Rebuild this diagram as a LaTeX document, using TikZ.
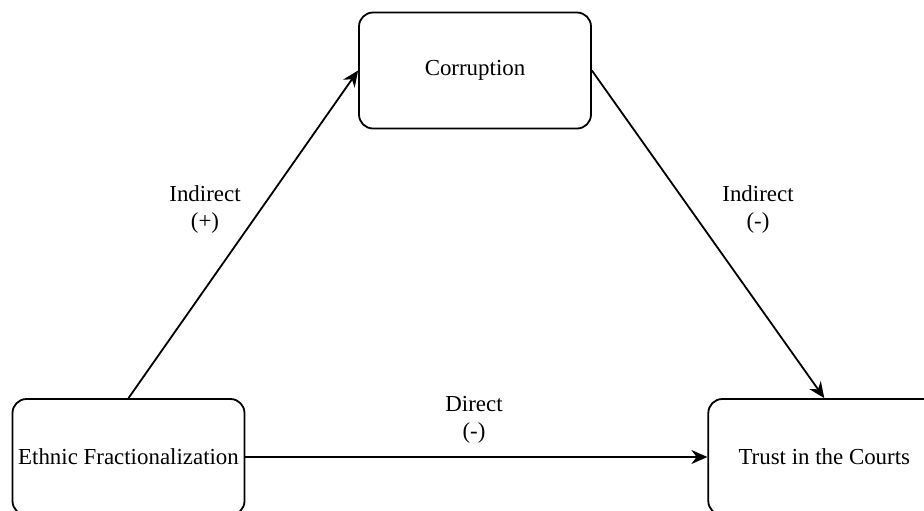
\documentclass[tikz,border=0pt]{standalone}
\usepackage{fontspec}
\setmainfont{Liberation Serif}
\usetikzlibrary{arrows.meta}
\usetikzlibrary{positioning}

\begin{document}
\begin{tikzpicture}[x=0.5pt,y=-0.5pt,line width=0.9pt,
        >={Stealth[length=8pt,width=7pt]},
        box/.style={draw,rounded corners=7pt,minimum width=116pt,minimum height=58pt,inner sep=0pt,font=\fontsize{11.45}{13.5}\selectfont},
        lbl/.style={align=center,inner sep=0pt,font=\fontsize{11.45}{13.5}\selectfont}]
        \useasboundingbox (0,0) rectangle (924,510);
        \clip (0,0) rectangle (924,510);

        \node[box] (Cor) at (475,70.5) {Corruption};
        \node[box] (EF) at (128.5,457) {Ethnic Fractionalization};
        \node[box, right=231pt of EF] (TiC) {Trust in the Courts};

        \draw[->] (EF.north) -- (Cor.west);
        \draw[->] (Cor.east) -- (TiC.north);
        \draw[->] (EF) -- (TiC);

        \node[lbl] (indPlus) at (205,209) {Indirect\\(+)};
        \node[lbl] (indMinus) at (758,209) {Indirect\\(-)};
        \node[lbl] (dirMinus) at (474,420) {Direct\\(-)};
\end{tikzpicture}
\end{document}
